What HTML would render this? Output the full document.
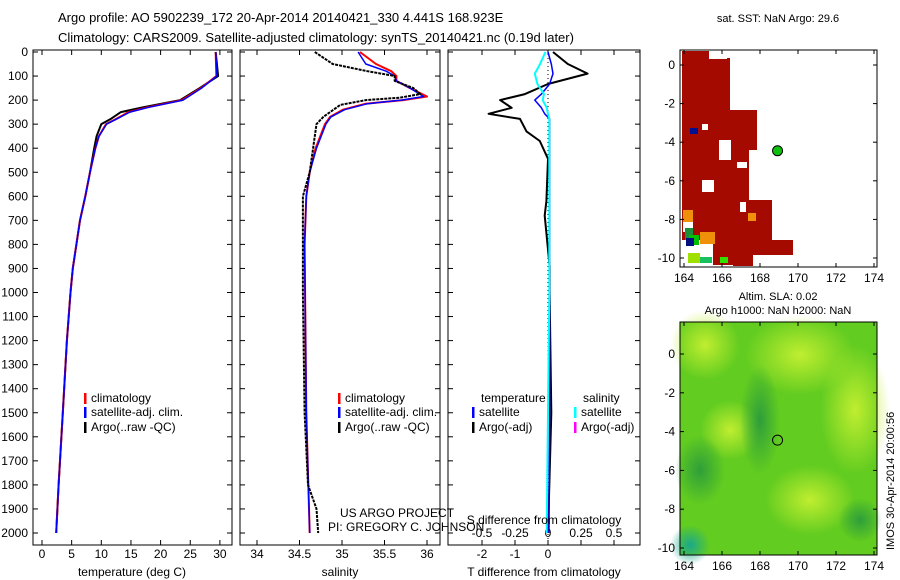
<!DOCTYPE html>
<html><head><meta charset="utf-8"><style>
body{margin:0;background:#fff;}
svg{display:block;font-family:"Liberation Sans",sans-serif;}
text{font-size:12px;fill:#000;}
</style></head><body>
<svg id="c" width="900" height="580" viewBox="0 0 900 580">
<defs>
<radialGradient id="g1" cx="0.5" cy="0.5" r="0.5"><stop offset="0" stop-color="#2e9e3a"/><stop offset="1" stop-color="#2e9e3a" stop-opacity="0"/></radialGradient>
<radialGradient id="g2" cx="0.5" cy="0.5" r="0.5"><stop offset="0" stop-color="#c0ee30"/><stop offset="1" stop-color="#c0ee30" stop-opacity="0"/></radialGradient>
<radialGradient id="g3" cx="0.5" cy="0.5" r="0.5"><stop offset="0" stop-color="#1aa88a"/><stop offset="1" stop-color="#1aa88a" stop-opacity="0"/></radialGradient>
</defs>
<text x="58" y="22" style="font-size:13px">Argo profile: AO 5902239_172 20-Apr-2014 20140421_330 4.441S 168.923E</text>
<text x="58" y="42" style="font-size:13px">Climatology: CARS2009. Satellite-adjusted climatology: synTS_20140421.nc (0.19d later)</text>
<g id="plots"></g>
<text transform="translate(894,550) rotate(-90)" style="font-size:11px">IMOS 30-Apr-2014 20:00:56</text>
</svg>
<script>
// ---- data ----
const depthA=[0,100,150,200,230,250,280,300,350,400,500,600,700,800,900,1000,1200,1500,1800,2000];
const tempArgo=[29.3,29.7,26.6,23.3,17.0,13.3,11.5,10.0,9.2,8.8,8.1,7.3,6.4,5.8,5.2,4.8,4.2,3.5,2.8,2.4];
const depthC=[0,100,150,200,230,250,280,300,350,400,500,600,700,800,900,1000,1200,1500,1800,2000];
const tempClim=[29.3,29.4,26.8,23.6,17.8,14.6,12.4,10.8,9.6,9.0,8.1,7.3,6.4,5.8,5.2,4.8,4.2,3.5,2.8,2.4];
const tempSat=[29.3,29.5,26.9,23.8,18.0,14.8,12.5,10.9,9.6,9.0,8.1,7.3,6.4,5.8,5.2,4.8,4.2,3.5,2.8,2.4];
const depthSA=[0,50,80,100,120,150,175,190,200,220,240,270,300,400,500,600,1000,1500,1800,1900,2000];
const salArgo=[34.68,34.89,35.3,35.62,35.62,35.84,35.92,35.68,35.28,34.98,34.9,34.78,34.7,34.66,34.62,34.54,34.54,34.56,34.6,34.7,34.72];
const depthS=[0,50,80,100,120,150,185,200,215,240,270,300,400,500,600,800,1500,2000];
const salClim=[35.21,35.4,35.58,35.64,35.64,35.8,36.0,35.72,35.28,35.01,34.86,34.8,34.69,34.62,34.58,34.56,34.58,34.62];
const salSat=[35.19,35.28,35.52,35.62,35.64,35.8,35.96,35.7,35.3,35.03,34.87,34.81,34.7,34.62,34.58,34.56,34.58,34.62];
const depthD=[0,50,90,133,175,200,232,257,278,330,370,444,620,680,890,1000,1500,2000];
const tDiffArgo=[0.15,0.6,1.2,0.0,-0.7,-1.45,-1.1,-1.8,-0.85,-0.65,-0.25,0.0,-0.05,-0.1,0.05,0.05,0.1,0.0];
const tDiffSat=[0.0,0.1,0.15,0.05,-0.2,-0.4,-0.2,-0.1,0.05,0.05,0.05,0.05,0.05,0.05,0.05,0.05,0.05,0.03];
const sDiffSat=[-0.02,-0.06,-0.1,-0.08,-0.03,-0.04,-0.01,0.0,0.01,0.01,0.01,0.01,0.01,0.01,0.01,0.01,0.0,-0.01];
const depthTicks=[0,100,200,300,400,500,600,700,800,900,1000,1100,1200,1300,1400,1500,1600,1700,1800,1900,2000];
const tempTicks=[0,5,10,15,20,25,30];
const salTicks=[34,34.5,35,35.5,36];
const salTickLabels=["34","34.5","35","35.5","36"];
const diffTicks=[-2,-1,0,1,2];
const diffTickLabels=["-2","-1","0","",""];
const sdiffTickLabels=["-0.5","-0.25","0","0.25","0.5"];
const sdiffTicks=[-0.5,-0.25,0,0.25,0.5];
const lonTicks=[164,166,168,170,172,174];
const latTicks=[0,-2,-4,-6,-8,-10];

const NS="http://www.w3.org/2000/svg";
const root=document.getElementById('plots');
function mk(tag,attrs,parent){const e=document.createElementNS(NS,tag);for(const k in attrs)e.setAttribute(k,attrs[k]);(parent||root).appendChild(e);return e;}
const yD=d=>52+0.2405*d;
const xT=t=>42+5.93*t;
const xS=s=>257+85*(s-34);
const xDT=t=>548+33*t;
const xDS=s=>548+132*s;

function frame(x0,x1,name){
  const r=mk('rect',{x:x0,y:50,width:x1-x0,height:495,fill:'none',stroke:'#000','stroke-width':1});
  
  
}
function xticks(vals,fx,labels,name,ytext){
  vals.forEach((v,i)=>{const x=fx(v);
    mk('line',{x1:x,x2:x,y1:545,y2:540,stroke:'#000'});
    mk('line',{x1:x,x2:x,y1:50,y2:55,stroke:'#000'});
    if(labels[i]!==""){const t=mk('text',{x:x,y:ytext||558,'text-anchor':'middle'});t.textContent=labels[i];
    
    }
  });
}
function yticks(x0,x1){
  depthTicks.forEach(d=>{const y=yD(d);
    mk('line',{x1:x0,x2:x0+5,y1:y,y2:y,stroke:'#000'});
    mk('line',{x1:x1,x2:x1-5,y1:y,y2:y,stroke:'#000'});});
}
function line(xs,ds,fx,color,w,name,dash){
  const pts=xs.map((v,i)=>fx(v).toFixed(1)+','+yD(ds[i]).toFixed(1)).join(' ');
  const p=mk('polyline',{points:pts,fill:'none',stroke:color,'stroke-width':w,'stroke-linejoin':'round'});
  if(dash)p.setAttribute('stroke-dasharray',dash);
  
  
}
function label(x,y,s,name,anchor,size){const t=mk('text',{x:x,y:y,'text-anchor':anchor||'start'});if(size)t.style.fontSize=size+'px';t.textContent=s;
  
  return t;}
function legend(x,y,color,s,name){mk('rect',{x:x,y:y-9,width:2.5,height:11,fill:color});label(x+7,y,s,name);}

// panel 1
frame(33,232,'temperature-panel');
yticks(33,232);
depthTicks.forEach(d=>{const t=mk('text',{x:28,y:yD(d)+4,'text-anchor':'end'});t.textContent=d;
  
  });
xticks(tempTicks,xT,tempTicks.map(String),'temperature');
line(tempArgo,depthA,xT,'#000',2,'temperature-argo-line');
line(tempClim,depthC,xT,'#f00',2,'temperature-climatology-line');
line(tempSat,depthC,xT,'#00f',1.5,'temperature-satellite-line');
label(132,576,'temperature (deg C)','temperature-axis-title','middle');
legend(84,402,'#f00','climatology','legend-climatology');
legend(84,416,'#00f','satellite-adj. clim.','legend-satellite');
legend(84,431,'#000','Argo(..raw -QC)','legend-argo');

// panel 2
frame(240,440,'salinity-panel');
yticks(240,440);
xticks(salTicks,xS,salTickLabels,'salinity');
line(salClim,depthS,xS,'#f00',2,'salinity-climatology-line');
line(salSat,depthS,xS,'#00f',1.5,'salinity-satellite-line');
line(salArgo,depthSA,xS,'#000',2,'salinity-argo-line','3 1');
label(340,517,'US ARGO PROJECT','project-label');
label(328,531,'PI: GREGORY C. JOHNSON','pi-label');
label(340,576,'salinity','salinity-axis-title','middle');
legend(338,402,'#f00','climatology','legend-climatology-2');
legend(338,416,'#00f','satellite-adj. clim.','legend-satellite-2');
legend(338,431,'#000','Argo(..raw -QC)','legend-argo-2');

// panel 3
frame(448,640,'difference-panel');
yticks(448,640);
xticks(diffTicks,xDT,diffTickLabels,'t-difference');
sdiffTicks.forEach((v,i)=>{const t=mk('text',{x:xDS(v),y:537,'text-anchor':'middle'});t.textContent=sdiffTickLabels[i];
  
  });
mk('line',{x1:548,x2:548,y1:50,y2:545,stroke:'#000','stroke-dasharray':'1 3'});
line(tDiffArgo,depthD,xDT,'#000',2,'t-difference-argo-line');
line(tDiffSat,depthD,xDT,'#00f',1.5,'t-difference-satellite-line');
line(sDiffSat,depthD,xDS,'#0ff',2,'s-difference-satellite-line');
label(544,524,'S difference from climatology','s-difference-axis-title','middle');
label(544,576,'T difference from climatology','t-difference-axis-title','middle');
label(481,402,'temperature','legend-temperature-header');
label(583,402,'salinity','legend-salinity-header');
legend(472,416,'#00f','satellite','legend-t-satellite');
legend(472,431,'#000','Argo(-adj)','legend-t-argo');
legend(574,416,'#0ff','satellite','legend-s-satellite');
legend(574,431,'#f0f','Argo(-adj)','legend-s-argo');

// maps
const lonX=l=>684+19*(l-164);
function mapAxes(y0,y1,latY,name){
  const r=mk('rect',{x:680,y:y0,width:197,height:y1-y0,fill:'none',stroke:'#000'});
  
  
  lonTicks.forEach(l=>{const x=lonX(l);mk('line',{x1:x,x2:x,y1:y1,y2:y1-4,stroke:'#000'});mk('line',{x1:x,x2:x,y1:y0,y2:y0+4,stroke:'#000'});
    label(x,y1+15,String(l),name+'-lon-label','middle');});
  latTicks.forEach(l=>{const y=latY(l);mk('line',{x1:680,x2:684,y1:y,y2:y,stroke:'#000'});mk('line',{x1:877,x2:873,y1:y,y2:y,stroke:'#000'});
    label(675,y+4,String(l),name+'-lat-label','end');});
}
// SST map
const lat1=l=>65-19.3*l;
const sst=mk('g',{});


[[682,51,30,10],[682,58,48,60],[682,110,75,40],[682,150,67,60],[682,200,90,40],[713,240,80,15],[713,245,40,20],[733,248,20,18]].forEach(r=>mk('rect',{x:r[0],y:r[1],width:r[2],height:r[3],fill:'#a50a00'},sst));
[[709,51,18,8],[736,81,3,2],[702,124,6,6],[719,140,12,20],[737,162,10,6],[753,170,8,8],[765,180,8,6],[702,180,12,12],[740,202,6,10],[683,217,10,15],[683,243,12,12]].forEach(r=>mk('rect',{x:r[0],y:r[1],width:r[2],height:r[3],fill:'#fff'},sst));
[[683,210,10,12,'#f0900a'],[700,232,15,12,'#f0900a'],[685,228,8,12,'#1c8f3a'],[689,235,10,10,'#00c000'],[686,238,8,8,'#001080'],[688,253,12,10,'#a0e000'],[700,257,12,6,'#18c060'],[720,257,8,6,'#30e000'],[748,213,8,8,'#f0900a'],[690,128,8,6,'#001090']].forEach(r=>mk('rect',{x:r[0],y:r[1],width:r[2],height:r[3],fill:r[4]},sst));
mk('circle',{cx:lonX(168.923),cy:lat1(-4.441),r:5,fill:'#10c010',stroke:'#000'});
mapAxes(50,267,lat1,'sst-map');
label(778,22,'sat. SST: NaN Argo: 29.6','sst-map-title','middle',11);
// SLA map
const lat2=l=>354-19.4*l;
const sla=mk('g',{});


mk('rect',{x:680,y:322,width:197,height:233,fill:'#62cc20'},sla);
mk('ellipse',{cx:800,cy:355,rx:55,ry:40,fill:'url(#g2)'},sla);
mk('ellipse',{cx:855,cy:410,rx:35,ry:65,fill:'url(#g2)'},sla);
mk('ellipse',{cx:705,cy:345,rx:35,ry:35,fill:'url(#g2)'},sla);
mk('ellipse',{cx:810,cy:500,rx:45,ry:35,fill:'url(#g2)'},sla);
mk('ellipse',{cx:730,cy:430,rx:30,ry:30,fill:'url(#g2)'},sla);
mk('ellipse',{cx:760,cy:420,rx:20,ry:55,fill:'url(#g1)'},sla);
mk('ellipse',{cx:700,cy:470,rx:25,ry:35,fill:'url(#g1)'},sla);
mk('ellipse',{cx:690,cy:545,rx:20,ry:20,fill:'url(#g3)'},sla);
mk('ellipse',{cx:860,cy:520,rx:22,ry:22,fill:'url(#g1)'},sla);
mk('circle',{cx:lonX(168.923),cy:lat2(-4.441),r:5,fill:'none',stroke:'#000'});
mapAxes(322,555,lat2,'sla-map');
label(778,300,'Altim. SLA: 0.02','sla-map-title','middle',11);
label(778,314,'Argo h1000: NaN h2000: NaN','sla-map-subtitle','middle',11);
</script>
</body></html>
